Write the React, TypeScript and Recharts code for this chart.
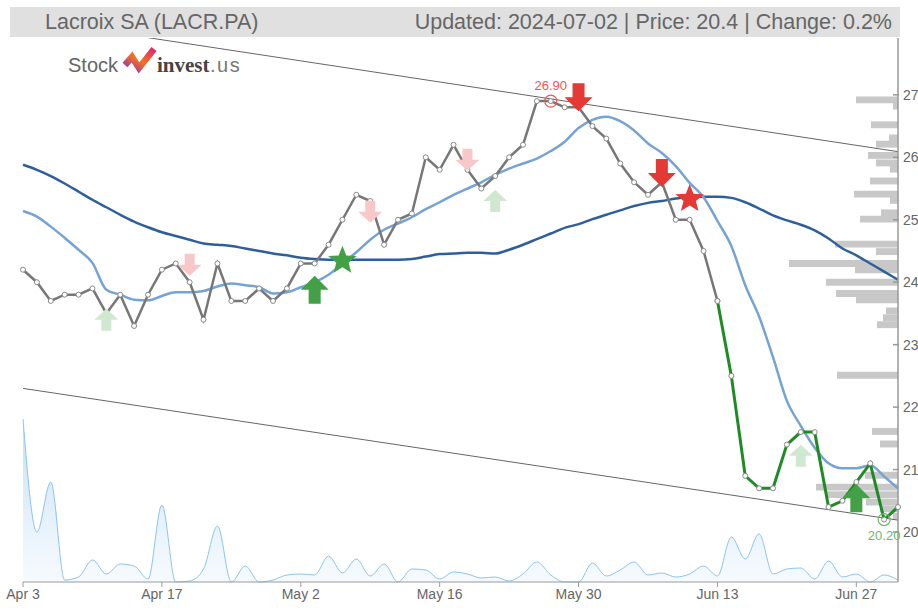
import { ComposedChart, Line, Area, XAxis, YAxis, ReferenceLine, ReferenceArea, ReferenceDot } from 'recharts';

const dates = [
  'Apr 3', 'Apr 4', 'Apr 5', 'Apr 8', 'Apr 9', 'Apr 10', 'Apr 11', 'Apr 12', 'Apr 15', 'Apr 16',
  'Apr 17', 'Apr 18', 'Apr 19', 'Apr 22', 'Apr 23', 'Apr 24', 'Apr 25', 'Apr 26', 'Apr 29', 'Apr 30',
  'May 2', 'May 3', 'May 6', 'May 7', 'May 8', 'May 9', 'May 10', 'May 13', 'May 14', 'May 15',
  'May 16', 'May 17', 'May 20', 'May 21', 'May 22', 'May 23', 'May 24', 'May 27', 'May 28', 'May 29',
  'May 30', 'May 31', 'Jun 3', 'Jun 4', 'Jun 5', 'Jun 6', 'Jun 7', 'Jun 10', 'Jun 11', 'Jun 12',
  'Jun 13', 'Jun 14', 'Jun 17', 'Jun 18', 'Jun 19', 'Jun 20', 'Jun 21', 'Jun 24', 'Jun 25', 'Jun 26',
  'Jun 27', 'Jun 28', 'Jul 1', 'Jul 2',
];

const closePrice = [
  24.2, 24.0, 23.7, 23.8, 23.8, 23.9, 23.5, 23.8, 23.3, 23.8,
  24.2, 24.3, 24.0, 23.4, 24.3, 23.7, 23.7, 23.9, 23.7, 23.9,
  24.3, 24.3, 24.6, 25.0, 25.4, 25.3, 24.6, 25.0, 25.1, 26.0,
  25.8, 26.2, 25.8, 25.5, 25.7, 26.0, 26.2, 26.9, 26.9, 26.8,
  26.8, 26.5, 26.3, 25.9, 25.6, 25.4, 25.6, 25.0, 25.0, 24.5,
  23.7, 22.5, 20.9, 20.7, 20.7, 21.4, 21.6, 21.6, 20.4, 20.5,
  20.8, 21.1, 20.2, 20.4,
];

const maShort = [
  25.14, 25.05, 24.89, 24.71, 24.52, 24.31, 23.88, 23.8, 23.72, 23.71,
  23.78, 23.84, 23.84, 23.86, 23.93, 23.98, 23.95, 23.92, 23.82, 23.84,
  23.92, 24.0, 24.12, 24.3, 24.48, 24.68, 24.84, 24.94, 25.04, 25.17,
  25.28, 25.4, 25.5, 25.6, 25.72, 25.82, 25.9, 25.98, 26.1, 26.25,
  26.47, 26.6, 26.65, 26.58, 26.43, 26.22, 26.07, 25.86, 25.59, 25.36,
  24.98, 24.58, 23.95, 23.45, 22.8, 22.1, 21.7, 21.35, 21.1, 21.02,
  21.02, 21.07, 20.89, 20.7,
];

const maLong = [
  25.88, 25.8, 25.7, 25.58, 25.45, 25.32, 25.2, 25.08, 24.97, 24.88,
  24.8, 24.74, 24.68, 24.62, 24.6, 24.58, 24.54, 24.5, 24.46, 24.43,
  24.39, 24.37, 24.36, 24.36, 24.36, 24.36, 24.36, 24.36, 24.37, 24.41,
  24.45, 24.46, 24.47, 24.47, 24.46, 24.52, 24.6, 24.69, 24.78, 24.87,
  24.93, 25.01, 25.08, 25.15, 25.22, 25.27, 25.3, 25.34, 25.36, 25.37,
  25.37, 25.35, 25.28, 25.18, 25.07, 24.99, 24.92, 24.83, 24.7, 24.54,
  24.43, 24.3, 24.17, 24.04,
];

const volume = [
  16300, 5000, 10000, 200, 500, 2200, 800, 1800, 1600, 300,
  7700, 0, 100, 1300, 5600, 0, 1600, 0, 200, 700,
  800, 700, 2600, 900, 2300, 600, 1800, 0, 1300, 1200,
  300, 1000, 800, 400, 500, 100, 800, 2000, 700, 0,
  0, 1900, 600, 1200, 2000, 700, 900, 500, 800, 1600,
  600, 4500, 2300, 4800, 800, 1300, 1400, 300, 2100, 500,
  800, 0, 700, 200,
];

// volume by price (right-hand histogram)
const profilePrice = [
  26.92, 26.82, 26.52, 26.31, 26.21, 26.03, 25.91, 25.81, 25.62, 25.41, 25.31, 25.11, 25.01,
  24.61, 24.49, 24.3, 24.2, 24.0, 23.82, 23.72, 23.54, 23.43, 23.32,
  22.51, 21.61, 21.41, 20.91, 20.72, 20.6, 20.48, 20.37, 20.25,
];
const profileVolume = [
  42, 5, 27, 9, 22, 30, 22, 8, 28, 44, 8, 17, 38,
  63, 22, 109, 43, 72, 62, 42, 12, 15, 21,
  61, 26, 18, 33, 82, 72, 32, 18, 5,
];

// trend channel end points
const channelDates = ['Apr 3', 'Jul 2'];
const channelUpper = [28.22, 26.09];
const channelLower = [22.3, 20.19];

// signals
const signalDates = ['Apr 11', 'Apr 19', 'May 3', 'May 7', 'May 9', 'May 20', 'May 22', 'May 30', 'Jun 7', 'Jun 11', 'Jun 21', 'Jun 27'];
const signalLevels = [23.4, 24.28, 23.88, 24.36, 25.13, 25.96, 25.3, 26.96, 25.75, 25.35, 21.22, 20.54];
const signalTypes = ['buyWeak', 'sellWeak', 'buy', 'buyStar', 'sellWeak', 'sellWeak', 'buyWeak', 'sell', 'sell', 'sellStar', 'buyWeak', 'buy'];

const highDate = 'May 28';
const lowDate = 'Jul 1';
const trendStart = 'Jun 13';

const priceTicks = [20, 21, 22, 23, 24, 25, 26, 27];

const splitIdx = dates.indexOf(trendStart);
const data = dates.map((date, i) => ({
  date,
  close: i <= splitIdx ? closePrice[i] : null,
  closeLate: i >= splitIdx ? closePrice[i] : null,
  maShort: maShort[i],
  maLong: maLong[i],
  volume: volume[i],
}));

const COLORS: Record<string, string> = {
  buy: '#43a047',
  buyStar: '#43a047',
  buyWeak: '#cfe8cf',
  sell: '#e53935',
  sellStar: '#e53935',
  sellWeak: '#f8c8c8',
};

const arrowPoints = (cx: number, cy: number, up: boolean, w: number, h: number, s: number) => {
  const d = up ? 1 : -1;
  const pts = [
    [cx, cy - (d * h) / 2],
    [cx + w / 2, cy],
    [cx + s / 2, cy],
    [cx + s / 2, cy + (d * h) / 2],
    [cx - s / 2, cy + (d * h) / 2],
    [cx - s / 2, cy],
    [cx - w / 2, cy],
  ];
  return pts.map((p) => p.join(',')).join(' ');
};

const starPoints = (cx: number, cy: number, R: number, r: number) => {
  const pts: string[] = [];
  for (let k = 0; k < 10; k++) {
    const a = -Math.PI / 2 + (k * Math.PI) / 5;
    const rad = k % 2 === 0 ? R : r;
    pts.push(`${cx + rad * Math.cos(a)},${cy + rad * Math.sin(a)}`);
  }
  return pts.join(' ');
};

const signalShape = (type: string) => (props: any) => {
  const { cx, cy } = props;
  const fill = COLORS[type];
  if (type.endsWith('Star')) {
    return <polygon points={starPoints(cx, cy + 1, 15, 6.5)} fill={fill} />;
  }
  const up = type.startsWith('buy');
  const weak = type.endsWith('Weak');
  const w = weak ? 24 : 28;
  const h = weak ? 22 : 28;
  const s = weak ? 10 : 12;
  return <polygon points={arrowPoints(cx, cy, up, w, h, s)} fill={fill} />;
};

const PriceTick = (props: any) => {
  const { x, y, payload } = props;
  return (
    <g>
      <line x1={x - 10} x2={x - 4} y1={y} y2={y} stroke="#999" strokeWidth={1.5} />
      <text x={x} y={y} dy={5} fill="#666" fontSize={14} textAnchor="start">
        {payload.value}
      </text>
    </g>
  );
};

const App = () => {
  return (
    <div style={{ position: 'absolute', left: 0, top: 0, width: 918, height: 610, fontFamily: '"Liberation Sans", Arial, sans-serif', background: '#fff' }}>
      <div
        style={{
          position: 'absolute', left: 10, top: 7, width: 890, height: 30, background: '#e0e0e0',
          display: 'flex', justifyContent: 'space-between', alignItems: 'center',
          boxSizing: 'border-box', padding: '0 8px 0 35px', fontSize: 21.5, color: '#666',
        }}
      >
        <span>Lacroix SA (LACR.PA)</span>
        <span>Updated: 2024-07-02 | Price: 20.4 | Change: 0.2%</span>
      </div>
      <svg width={260} height={40} style={{ position: 'absolute', left: 60, top: 42 }}>
        <defs>
          <linearGradient id="logoGrad" x1="0" y1="1" x2="1" y2="0">
            <stop offset="0%" stopColor="#9b30b0" />
            <stop offset="45%" stopColor="#f4731f" />
            <stop offset="100%" stopColor="#e5266e" />
          </linearGradient>
        </defs>
        <text x={8} y={30} fontSize={20} fill="#666">Stock</text>
        <polyline points="65,23 72,15 79,26 94,7" fill="none" stroke="url(#logoGrad)" strokeWidth={6.5} strokeLinejoin="miter" />
        <text x={97} y={30} fontSize={21} fontWeight="bold" fill="#444" fontFamily='"Liberation Serif", serif'>invest</text>
        <text x={150} y={30} fontSize={20} fill="#777" letterSpacing={1.5}>.us</text>
      </svg>
      <div style={{ position: 'absolute', left: 0, top: 0 }}>
        <ComposedChart width={918} height={610} data={data} margin={{ top: 38, right: 0, bottom: 0, left: 23 }}>
          <defs>
            <linearGradient id="volGrad" x1="0" y1="0" x2="0" y2="1">
              <stop offset="0%" stopColor="#8fc2ec" stopOpacity={0.9} />
              <stop offset="100%" stopColor="#e6f1fb" stopOpacity={0.6} />
            </linearGradient>
          </defs>
          <XAxis
            dataKey="date"
            scale="point"
            interval={9}
            tickSize={5}
            stroke="#999"
            tick={{ fill: '#666', fontSize: 14 }}
            height={28}
          />
          <XAxis xAxisId="vp" dataKey="profileScale" type="number" hide domain={[0, 875]} reversed allowDataOverflow />
          <YAxis
            orientation="right"
            domain={[19.2, 27.91]}
            ticks={priceTicks}
            allowDataOverflow
            width={20}
            tickSize={0}
            tickMargin={5}
            tickLine={false}
            stroke="#999"
            strokeWidth={1.5}
            tick={<PriceTick />}
          />
          <YAxis yAxisId="vol" hide domain={[0, 54400]} />
          <Area
            yAxisId="vol"
            type="monotone"
            dataKey="volume"
            stroke="#8cc4ee"
            strokeWidth={1}
            fill="url(#volGrad)"
            isAnimationActive={false}
            dot={false}
            activeDot={false}
          />
          {profilePrice.map((p, i) => (
            <ReferenceArea
              key={`vp${i}`}
              xAxisId="vp"
              x1={0}
              x2={profileVolume[i]}
              y1={p - 0.055}
              y2={p + 0.055}
              fill="#c8c8c8"
              fillOpacity={1}
              stroke="none"
              ifOverflow="visible"
            />
          ))}
          <ReferenceLine
            segment={[{ x: channelDates[0], y: channelUpper[0] }, { x: channelDates[1], y: channelUpper[1] }]}
            stroke="#666"
            strokeWidth={1}
            ifOverflow="hidden"
          />
          <ReferenceLine
            segment={[{ x: channelDates[0], y: channelLower[0] }, { x: channelDates[1], y: channelLower[1] }]}
            stroke="#666"
            strokeWidth={1}
            ifOverflow="hidden"
          />
          <Line type="monotone" dataKey="maLong" stroke="#2f5f9a" strokeWidth={2.5} dot={false} activeDot={false} isAnimationActive={false} />
          <Line type="monotone" dataKey="maShort" stroke="#74a3d4" strokeWidth={2.5} dot={false} activeDot={false} isAnimationActive={false} />
          <Line
            type="linear"
            dataKey="close"
            stroke="#777"
            strokeWidth={2.5}
            dot={{ r: 2.5, fill: '#fff', stroke: '#888', strokeWidth: 1 }}
            activeDot={false}
            isAnimationActive={false}
          />
          <Line
            type="linear"
            dataKey="closeLate"
            stroke="#1f8b24"
            strokeWidth={3}
            dot={{ r: 2.5, fill: '#fff', stroke: '#888', strokeWidth: 1 }}
            activeDot={false}
            isAnimationActive={false}
          />
          {signalDates.map((d, i) => (
            <ReferenceDot key={`sig${i}`} x={d} y={signalLevels[i]} ifOverflow="visible" shape={signalShape(signalTypes[i])} />
          ))}
          <ReferenceDot
            x={highDate}
            y={closePrice[dates.indexOf(highDate)]}
            r={6}
            fill="none"
            stroke="#ef5350"
            strokeWidth={1.2}
            ifOverflow="visible"
            label={{ value: closePrice[dates.indexOf(highDate)].toFixed(2), position: 'top', fill: '#ef5350', fontSize: 13 }}
          />
          <ReferenceDot
            x={lowDate}
            y={closePrice[dates.indexOf(lowDate)]}
            r={6}
            fill="none"
            stroke="#66bb6a"
            strokeWidth={1.2}
            ifOverflow="visible"
            label={{ value: closePrice[dates.indexOf(lowDate)].toFixed(2), position: 'bottom', fill: '#66bb6a', fontSize: 13 }}
          />
        </ComposedChart>
      </div>
    </div>
  );
};

export default App;
